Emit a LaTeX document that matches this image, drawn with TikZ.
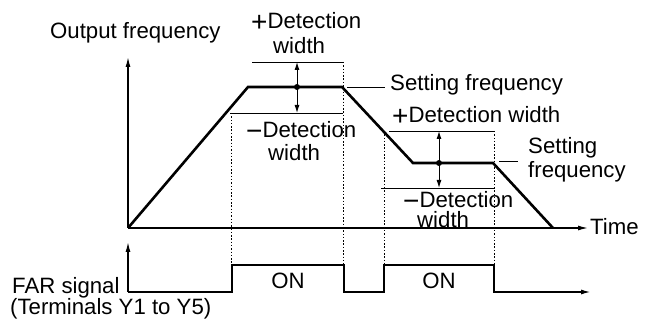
\documentclass[tikz,border=0pt]{standalone}
\usepackage{fontspec}
\setmainfont{Liberation Sans}
\usetikzlibrary{arrows.meta}
\newcommand{\bigplus}{\raisebox{-2.5pt}{\fontsize{28}{28}\selectfont +}}
\newcommand{\bigminus}{\raisebox{-2.5pt}{\fontsize{28}{28}\selectfont −}}
\begin{document}
\begin{tikzpicture}[x=1pt,y=-1pt,
  lbl/.style={inner sep=0pt,font=\fontsize{22.2}{25}\selectfont},
  axis/.style={line width=1.3pt,-{Latex[length=10pt,width=5pt]}},
  curve/.style={line width=2.6pt,line join=miter},
  sig/.style={line width=1.6pt,line join=miter,-{Latex[length=10pt,width=5pt]}},
  band/.style={line width=0.9pt},
  guide/.style={line width=0.9pt,dash pattern=on 1.5pt off 1.8pt},
  dbl/.style={line width=1pt,{Latex[length=8pt,width=5pt]}-{Latex[length=8pt,width=5pt]}},
  leader/.style={line width=0.9pt}]
\useasboundingbox (0,0) rectangle (648,323);
% coordinates
\coordinate (O) at (128,228);
\coordinate (Ytop) at (128,57);
\coordinate (Xend) at (588,228);
\coordinate (A) at (248,87);
\coordinate (B) at (342,87);
\coordinate (C) at (413,163);
\coordinate (D) at (493,163);
\coordinate (E) at (553,228);
% top axes
\draw[axis] (O) -- (Ytop);
\draw[axis] (O) -- (Xend);
% frequency curve
\draw[curve] (O) -- (A) -- (B) -- (C) -- (D) -- (E);
% detection bands
\coordinate (u1a) at (252,62);  \coordinate (u1b) at (343,62);
\coordinate (l1a) at (230,113); \coordinate (l1b) at (343,113);
\coordinate (u2a) at (389,131); \coordinate (u2b) at (495,131);
\coordinate (l2a) at (381,188); \coordinate (l2b) at (495,188);
\draw[band] (u1a) -- (u1b);
\draw[band] (l1a) -- (l1b);
\draw[band] (u2a) -- (u2b);
\draw[band] (l2a) -- (l2b);
% double arrows and dots
\coordinate (m1) at (297,87);
\coordinate (m2) at (439,163);
\draw[dbl] (297,62) -- (297,113);
\draw[dbl] (439,131) -- (439,188);
\fill (m1) circle (3pt);
\fill (m2) circle (3pt);
% guides
\draw[guide] (231,113) -- (231,265);
\draw[guide] (343,62) -- (343,265);
\draw[guide] (384,131) -- (384,265);
\draw[guide] (494,131) -- (494,265);
% leaders
\draw[leader] (347,87) -- (385,87);
\draw[leader] (499,161) -- (518,161);
% bottom signal
\coordinate (O2) at (128,292);
\draw[axis] (O2) -- (128,242);
\draw[sig] (O2) -- (232,292) -- (232,265) -- (344,265) -- (344,292) -- (384,292) -- (384,265) -- (494,265) -- (494,292) -- (591,292);
% labels
\node[lbl,anchor=west] (of) at (50,33) {Output frequency};
\node[lbl,anchor=base west] (pd1) at (251,29) {\bigplus Detection};
\node[lbl,anchor=west] (pw1) at (273,46) {width};
\node[lbl,anchor=base west] (md1) at (246,138) {\bigminus Detection};
\node[lbl,anchor=west] (mw1) at (268,153) {width};
\node[lbl,anchor=west] (sf1) at (390,85) {Setting frequency};
\node[lbl,anchor=base west] (pd2) at (392,123) {\bigplus Detection width};
\node[lbl,anchor=west] (sf2a) at (528,148) {Setting};
\node[lbl,anchor=west] (sf2b) at (528,172) {frequency};
\node[lbl,anchor=base west] (md2) at (403,208) {\bigminus Detection};
\node[lbl,anchor=base west] (mw2) at (417,228) {width};
\node[lbl,anchor=west] (tm) at (590,227) {Time};
\node[lbl,anchor=west] (far) at (12,288) {FAR signal};
\node[lbl,anchor=west] (term) at (10,309) {(Terminals Y1 to Y5)};
\node[lbl] (on1) at (288,281) {ON};
\node[lbl] (on2) at (439,281) {ON};
\end{tikzpicture}
\end{document}
